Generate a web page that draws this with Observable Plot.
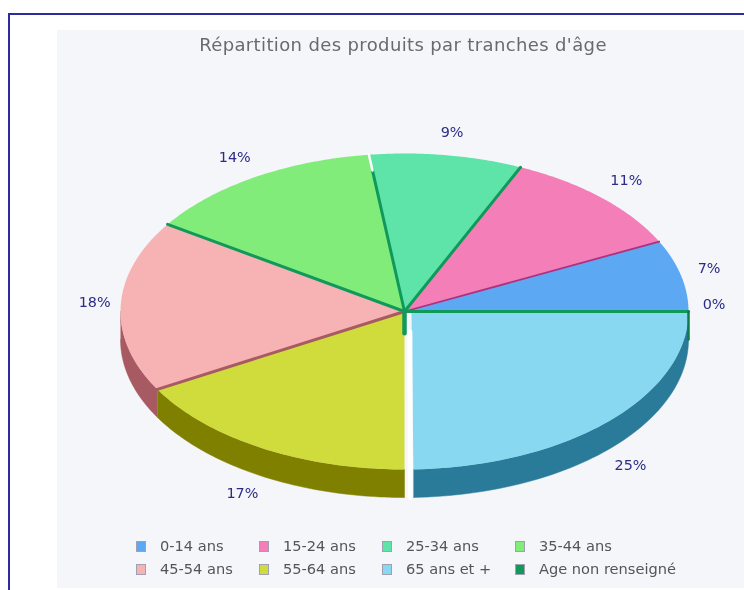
<!DOCTYPE html>
<html><head><meta charset="utf-8">
<script src="https://cdn.jsdelivr.net/npm/d3@7"></script>
<script src="https://cdn.jsdelivr.net/npm/@observablehq/plot@0.6"></script>
<style>
html,body{margin:0;padding:0;background:#fff}
#page{position:relative;width:744px;height:590px;overflow:hidden;font-family:"DejaVu Sans",sans-serif;filter:blur(0.5px)}
#frame{position:absolute;left:8px;top:13px;width:736px;height:577px;border-left:2px solid #2c2ca0;border-top:2px solid #2c2ca0;box-sizing:border-box}
#panel{position:absolute;left:57px;top:30px;width:687px;height:558px;background:#f4f6fa}
#title{position:absolute;left:57px;width:692px;top:34px;text-align:center;font-size:18px;letter-spacing:0.37px;color:#6a6a6a;white-space:nowrap}
#chart{position:absolute;left:0;top:60px}
#legend{position:absolute;left:0;top:535px;width:744px;height:46px}
.it{position:absolute;font-size:14.6px;color:#555;white-space:nowrap;line-height:16px}
.sw{position:absolute;width:10px;height:11px;box-sizing:border-box;border:1px solid #a0a0b0}
</style></head><body>
<div id="page"><div id="frame"></div><div id="panel"></div>
<div id="title">Répartition des produits par tranches d'âge</div>
<div id="chart"></div><div id="legend"></div></div>
<script>
const ages = ["0-14 ans","15-24 ans","25-34 ans","35-44 ans","45-54 ans","55-64 ans","65 ans et +","Age non renseigné"];
const shares = [7.3,11,8.7,13.7,17.5,16.8,25,0];
const topColors = ["#5ca8f2","#f47fb8","#5ee3a8","#82ec7a","#f7b2b4","#cfdc3c","#88d8f2","#0f9a5c"];
const sideColors = ["#2f6fb0","#b0307f","#0f9a5c","#0f9a5c","#a85a62","#808000","#2a7a9a","#0f7a4c"];
const legendX = [136,259,382,515];

const W=744,H=470,cx=404,cy=251,rx=284,ry=158,depth=28/158;
const total=d3.sum(shares);
let acc=0;
const slices=ages.map((age,i)=>{const a0=acc/total*2*Math.PI;acc+=shares[i];return {age,i,a0,a1:acc/total*2*Math.PI,share:shares[i]};});
const arc=(a0,a1,n=60)=>d3.range(n+1).map(k=>{const a=a0+(a1-a0)*k/n;return {x:Math.cos(a),y:Math.sin(a)};});
const explode=(i)=>i===6?{dx:7/rx,dy:-1.5/ry,g:1.8*Math.PI/180}:{dx:0,dy:0,g:0};
const L=(pts,o)=>Plot.line(pts,{x:"x",y:"y",...o});

const marks=[];
// outer walls, lower half only
for(const s of slices){
  if(s.a1<=Math.PI||s.share===0) continue;
  const e=explode(s.i);
  const top=arc(Math.max(s.a0,Math.PI)+e.g,s.a1);
  const wall=[...top,...top.slice().reverse().map(p=>({x:p.x,y:p.y-depth}))];
  marks.push(L(wall,{fill:sideColors[s.i],stroke:sideColors[s.i],strokeWidth:0.5}));
}
// top faces
for(const s of slices){
  if(s.share===0) continue;
  const e=explode(s.i);
  const poly=s.i===6?[{x:e.dx,y:e.dy},...arc(s.a0+e.g,s.a1),{x:1,y:e.dy}]:[{x:0,y:0},...arc(s.a0,s.a1)];
  marks.push(L(poly,{fill:topColors[s.i],stroke:"none"}));
}
// white gap left by the pulled-out slice
marks.push(L([{x:0.019,y:-0.13},{x:0.02,y:-1-depth}],{stroke:"#fff",strokeWidth:5}));
// dividing edges
const edges=[[0,"#b0307f",1.8,1],[1,"#0f9a5c",3,1],[2,"#0f9a5c",3,0.9],[3,"#0f9a5c",3,1],[4,"#a85a62",3,1]];
for(const [i,c,w,f] of edges){
  const a=slices[i].a1,p={x:Math.cos(a),y:Math.sin(a)};
  marks.push(L([{x:0,y:0},{x:p.x*f,y:p.y*f}],{stroke:c,strokeWidth:w}));
  if(f<1) marks.push(L([{x:p.x*f,y:p.y*f},p],{stroke:"#fff",strokeWidth:2.5}));
}
// zero-width slice: top edge, wall at the right, inner face at the centre
marks.push(L([{x:0,y:0},{x:1,y:0}],{stroke:"#0f9a5c",strokeWidth:3}));
marks.push(L([{x:1,y:0},{x:1,y:-depth}],{stroke:"#0f7a4c",strokeWidth:2.5}));
marks.push(L([{x:0,y:0},{x:0,y:-depth*0.78}],{stroke:"#0f9a5c",strokeWidth:4.5}));
// labels
const labels=slices.map(s=>{
  const m=(s.a0+s.a1)/2,si=Math.sin(m),k=1.09+0.05*Math.abs(si);
  return {x:k*Math.cos(m),y:1.13*si-(si<-0.01?depth+0.015:0)+(s.share===0?0.03:0),t:Math.round(s.share)+"%"};
});
marks.push(Plot.text(labels,{x:"x",y:"y",text:"t",fill:"#2c2c86",fontSize:14.4,dy:-2.5}));

const plot=Plot.plot({width:W,height:H,margin:0,style:{background:"transparent",fontFamily:"DejaVu Sans"},
  x:{domain:[-cx/rx,(W-cx)/rx],range:[0,W],axis:null},
  y:{domain:[cy/ry,(cy-H)/ry],range:[0,H],axis:null},
  marks});
document.getElementById("chart").append(plot);

const lg=document.getElementById("legend");
ages.forEach((a,i)=>{
  const c=i%4,r=Math.floor(i/4),top=r*23;
  const sw=document.createElement("div");sw.className="sw";sw.style.cssText=`left:${legendX[c]}px;top:${top+6}px;background:${topColors[i]}`;
  const t=document.createElement("div");t.className="it";t.textContent=a;t.style.cssText=`left:${legendX[c]+24}px;top:${top+3}px`;
  lg.append(sw,t);
});
</script></body></html>
